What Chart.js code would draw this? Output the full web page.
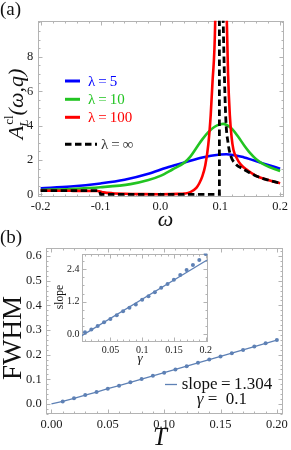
<!DOCTYPE html>
<html>
<head>
  <meta charset="utf-8">
  <script src="https://cdn.jsdelivr.net/npm/chart.js"></script>
  <style>
    body { margin: 0; background: #fff; }
    #page { position: relative; width: 291px; height: 450px; overflow: hidden; }
    #page canvas { position: absolute; }
  </style>
</head>
<body>
  <div id="page">
    <canvas id="chartA" width="291" height="232" style="left:0;top:0"></canvas>
    <canvas id="chartB" width="291" height="225" style="left:0;top:225px"></canvas>
    <canvas id="inset" width="165" height="125" style="left:50px;top:245px"></canvas>
  </div>
  <script>
    // ---- panel (a): A_L^cl(omega, q) for several lambda ----
    const omegaTicks = [-0.2, -0.1, 0, 0.1, 0.2];
    const aTicks = [0, 2, 4, 6, 8];
    const labelsA = ['λ\u2009=\u20095', 'λ\u2009=\u200910', 'λ\u2009=\u2009100', 'λ\u2009=\u2009∞'];

    const omBlue = [-0.2, -0.15, -0.1, -0.06, -0.02, 0.01, 0.04, 0.07, 0.1, 0.11, 0.14, 0.17, 0.2];
    const aBlue  = [0.36, 0.46, 0.64, 0.85, 1.20, 1.55, 1.85, 2.15, 2.32, 2.34, 2.15, 1.82, 1.50];

    const omGreen = [-0.2, -0.15, -0.1, -0.05, -0.02, 0, 0.02, 0.04, 0.05, 0.06, 0.07, 0.08, 0.09, 0.1, 0.105, 0.11, 0.12, 0.13, 0.14, 0.15, 0.16, 0.175, 0.2];
    const aGreen  = [0.26, 0.32, 0.42, 0.60, 0.84, 1.08, 1.45, 1.85, 2.20, 2.70, 3.20, 3.62, 3.92, 4.08, 4.10, 4.05, 3.80, 3.35, 2.85, 2.40, 2.05, 1.70, 1.36];

    const omRed = [-0.2, -0.15, -0.105, -0.095, -0.08, -0.06, -0.03, 0, 0.03, 0.04, 0.05, 0.06, 0.065, 0.07, 0.075, 0.08, 0.084, 0.087, 0.0915, 0.096, 0.1, 0.105, 0.111, 0.113, 0.116, 0.119, 0.122, 0.127, 0.134, 0.145, 0.16, 0.18, 0.2];
    const aRed  = [0.22, 0.21, 0.20, 0.12, 0.07, 0.04, 0.02, 0.015, 0.03, 0.05, 0.13, 0.38, 0.65, 1.05, 1.70, 2.90, 4.60, 6.50, 10.0, 22, 40, 22, 10.0, 7.0, 4.6, 3.3, 2.6, 2.15, 1.75, 1.42, 1.08, 0.84, 0.65];

    const omInfLow = [-0.2, -0.102, -0.1, 0.0985, 0.0985];
    const aInfLow  = [0.22, 0.22, 0, 0, 40];
    const omInfHigh = [0.0985, 0.101, 0.105, 0.109, 0.113, 0.118, 0.125, 0.137, 0.15, 0.162, 0.18, 0.2];
    const aInfHigh  = [40, 20, 10, 4.6, 3.0, 2.2, 1.8, 1.5, 1.25, 1.04, 0.84, 0.65];

    // ---- panel (b): FWHM against T ----
    const tTicks = [0, 0.05, 0.1, 0.15, 0.2];
    const fwhmTicks = [0, 0.1, 0.2, 0.3, 0.4, 0.5, 0.6];
    const tVals    = [0.01, 0.02, 0.03, 0.04, 0.05, 0.06, 0.07, 0.08, 0.09, 0.10, 0.11, 0.12, 0.13, 0.14, 0.15, 0.16, 0.17, 0.18, 0.19, 0.20];
    const fwhmVals = [0.010, 0.023, 0.036, 0.048, 0.062, 0.074, 0.088, 0.101, 0.114, 0.127, 0.140, 0.153, 0.167, 0.180, 0.193, 0.206, 0.219, 0.233, 0.246, 0.259];
    const fitLabel = 'slope\u2009=\u20091.304';
    const gammaNote = '=  0.1';

    // ---- inset: slope against gamma ----
    const gammaTicks = [0.05, 0.1, 0.15, 0.2];
    const slopeTicks = [0, 1.2, 2.4];
    const gammaVals = [0.01, 0.02, 0.03, 0.04, 0.05, 0.06, 0.07, 0.08, 0.09, 0.10, 0.11, 0.12, 0.13, 0.14, 0.15, 0.16, 0.17, 0.18, 0.19, 0.20];
    const slopeVals = [0.08, 0.18, 0.31, 0.44, 0.56, 0.70, 0.85, 0.98, 1.10, 1.27, 1.40, 1.55, 1.71, 1.85, 2.01, 2.18, 2.36, 2.55, 2.73, 2.95];
    const fitGamma = [0.005, 0.203];
    const fitSlope = [-0.05, 2.74];

    const pts = (xs, ys) => xs.map((x, i) => ({ x: x, y: ys[i] }));
    const SERIF = 'Liberation Serif';
    const font = (size, style) => (style ? style + ' ' : '') + size + 'px "Liberation Serif"';
    const MBLUE = '#5e81b5';

    Chart.defaults.font.family = SERIF;
    Chart.defaults.color = '#222';
    Chart.defaults.animation = false;

    // Mathematica-like frame with inward ticks on all four sides
    const framePlugin = {
      id: 'frame',
      beforeDatasetsDraw(chart, args, o) {
        const { ctx, chartArea: a, scales: { x, y } } = chart;
        ctx.save();
        ctx.strokeStyle = '#b3b3b3';
        ctx.lineWidth = 1;
        const L = Math.round(a.left) + 0.5, R = Math.round(a.right) - 0.5;
        const T = Math.round(a.top) + 0.5, B = Math.round(a.bottom) - 0.5;
        const marks = (scale, step) => {
          const out = [];
          const n0 = Math.ceil(scale.min / step - 1e-6), n1 = Math.floor(scale.max / step + 1e-6);
          for (let n = n0; n <= n1; n++) out.push(n * step);
          return out;
        };
        ctx.beginPath();
        const xm = (vals, len) => vals.forEach(v => {
          const p = Math.round(x.getPixelForValue(v)) + 0.5;
          ctx.moveTo(p, B); ctx.lineTo(p, B - len);
          ctx.moveTo(p, T); ctx.lineTo(p, T + len);
        });
        const ym = (vals, len) => vals.forEach(v => {
          const p = Math.round(y.getPixelForValue(v)) + 0.5;
          ctx.moveTo(L, p); ctx.lineTo(L + len, p);
          ctx.moveTo(R, p); ctx.lineTo(R - len, p);
        });
        xm(marks(x, o.xMinor), 2);
        ym(marks(y, o.yMinor), 2);
        xm(x.ticks.map(t => t.value), 4);
        ym(y.ticks.map(t => t.value), 4);
        ctx.stroke();
        ctx.strokeRect(L, T, R - L, B - T);
        ctx.restore();
      }
    };

    function setTicks(vals) {
      return s => { s.ticks = vals.map(v => ({ value: v })); };
    }

    function axis(min, max, tickVals, fmt, size, isX, pad, fsize) {
      return {
        type: 'linear', min: min, max: max,
        grid: { display: false, drawTicks: false }, border: { display: false },
        afterBuildTicks: setTicks(tickVals),
        afterFit: s => { if (isX) s.height = size; else s.width = size; },
        ticks: { autoSkip: false, maxRotation: 0, padding: pad, color: '#1a1a1a',
                 font: { size: fsize, family: SERIF }, callback: fmt }
      };
    }

    function drawRuns(ctx, x, y, parts) {
      let cx = x;
      parts.forEach(p => {
        ctx.font = p[1];
        ctx.fillText(p[0], cx, y + (p[2] || 0));
        cx += ctx.measureText(p[0]).width;
      });
    }

    // ---------- panel (a) ----------
    const textA = {
      id: 'textA',
      afterDraw(chart) {
        const ctx = chart.ctx;
        ctx.save();
        ctx.fillStyle = '#111';
        ctx.textBaseline = 'alphabetic';
        ctx.font = font(19);
        ctx.fillText('(a)', 0, 15);

        // x title
        ctx.font = font(22, 'italic');
        ctx.textAlign = 'center';
        ctx.fillText('ω', 165.5, 226);

        // y title  A_L^cl(ω,q), rotated
        ctx.textAlign = 'left';
        ctx.translate(23, 104);
        ctx.rotate(-Math.PI / 2);
        ctx.font = font(22, 'italic');
        const wA = ctx.measureText('A').width;
        ctx.font = font(13);
        const wcl = ctx.measureText('cl').width;
        ctx.font = font(13, 'italic');
        const wL = ctx.measureText('L').width;
        ctx.font = font(22, 'italic');
        const wRest = ctx.measureText('(ω,q)').width;
        const wScript = Math.max(wcl, wL + 1) + 1;
        const cx = -(wA + wScript + wRest) / 2;
        ctx.fillText('A', cx, 0);
        ctx.font = font(13);
        ctx.fillText('cl', cx + wA + 1, -10);
        ctx.font = font(13, 'italic');
        ctx.fillText('L', cx + wA - 1, 5);
        ctx.font = font(22, 'italic');
        ctx.fillText('(ω,q)', cx + wA + wScript, 0);
        ctx.restore();

        // legend
        ctx.save();
        const rows = [81, 99.3, 117.3, 144.3];
        ctx.textBaseline = 'middle';
        ctx.font = font(15);
        chart.data.datasets.filter(d => d.label).forEach(ds => {
          const idx = labelsA.indexOf(ds.label);
          const yy = rows[idx];
          ctx.strokeStyle = ds.borderColor;
          ctx.lineWidth = 3;
          ctx.setLineDash(ds.borderDash || []);
          ctx.beginPath();
          ctx.moveTo(65, yy); ctx.lineTo(idx === 3 ? 97 : 80, yy);
          ctx.stroke();
          ctx.setLineDash([]);
          ctx.fillStyle = idx === 3 ? '#333' : ds.borderColor;
          ctx.fillText(ds.label, idx === 3 ? 101 : 88, yy + 1);
        });
        ctx.restore();
      }
    };

    const lineDs = (label, data, color, extra) => Object.assign({
      label: label, data: data, showLine: true, borderColor: color, backgroundColor: color,
      borderWidth: 2.6, pointRadius: 0, cubicInterpolationMode: 'monotone', clip: 0
    }, extra || {});

    new Chart(document.getElementById('chartA'), {
      type: 'scatter',
      data: {
        datasets: [
          lineDs(labelsA[3], pts(omInfLow, aInfLow), '#000', { borderDash: [6.5, 3.5], tension: 0, cubicInterpolationMode: 'default', borderWidth: 2.8 }),
          lineDs(null, pts(omInfHigh, aInfHigh), '#000', { borderDash: [6.5, 3.5], borderWidth: 2.8 }),
          lineDs(labelsA[2], pts(omRed, aRed), '#ff0000'),
          lineDs(labelsA[1], pts(omGreen, aGreen), '#22c422'),
          lineDs(labelsA[0], pts(omBlue, aBlue), '#0000ff')
        ]
      },
      options: {
        responsive: false,
        layout: { padding: { top: 20.7, right: 3.7, left: 0, bottom: 0 } },
        plugins: { legend: { display: false }, tooltip: { enabled: false }, frame: { xMinor: 0.02, yMinor: 0.5 } },
        scales: {
          x: axis(-0.205, 0.207, omegaTicks, v => v.toFixed(1), 35.5, true, 3, 12.5),
          y: axis(-0.12, 10.1, aTicks, v => String(v), 37.7, false, 4.5, 12.5)
        }
      },
      plugins: [framePlugin, textA]
    });

    // ---------- panel (b) ----------
    const textB = {
      id: 'textB',
      afterDraw(chart) {
        const ctx = chart.ctx;
        ctx.save();
        ctx.fillStyle = '#111';
        ctx.font = font(19);
        ctx.fillText('(b)', 0, 18);

        ctx.textAlign = 'center';
        ctx.font = font(25, 'italic');
        ctx.fillText('T', 160, 220);

        ctx.save();
        ctx.translate(20.5, 113);
        ctx.rotate(-Math.PI / 2);
        ctx.font = font(27);
        ctx.fillText('FWHM', 0, 0);
        ctx.restore();

        // legend
        ctx.strokeStyle = MBLUE;
        ctx.lineWidth = 1.3;
        ctx.beginPath();
        ctx.moveTo(165, 159.5); ctx.lineTo(177, 159.5);
        ctx.stroke();
        ctx.textAlign = 'left';
        ctx.textBaseline = 'middle';
        ctx.font = font(17);
        ctx.fillText(fitLabel, 181.7, 159.5);
        drawRuns(ctx, 196.7, 175, [['γ', font(17, 'italic')], [' ' + gammaNote, font(17)]]);
        ctx.restore();
      }
    };

    new Chart(document.getElementById('chartB'), {
      type: 'scatter',
      data: {
        datasets: [
          { data: pts(tVals, fwhmVals), pointRadius: 2, pointBorderWidth: 0, backgroundColor: MBLUE, borderColor: MBLUE, clip: 0 },
          { data: pts([0].concat(tVals), [0].concat(fwhmVals)), showLine: true, pointRadius: 0, borderWidth: 1.3, borderColor: MBLUE, clip: 0 }
        ]
      },
      options: {
        responsive: false,
        layout: { padding: { top: 22.7, right: 7, left: 0, bottom: 0 } },
        plugins: { legend: { display: false }, tooltip: { enabled: false }, frame: { xMinor: 0.01, yMinor: 0.02 } },
        scales: {
          x: axis(-0.0051, 0.2058, tTicks, v => v.toFixed(2), 35.7, true, 3, 12.5),
          y: axis(-0.042, 0.634, fwhmTicks, v => v.toFixed(1), 45.7, false, 4, 12.5)
        }
      },
      plugins: [framePlugin, textB]
    });

    // ---------- inset ----------
    const textInset = {
      id: 'textInset',
      afterDraw(chart) {
        const ctx = chart.ctx;
        ctx.save();
        ctx.fillStyle = '#111';
        ctx.textAlign = 'center';
        ctx.font = font(13, 'italic');
        ctx.fillText('γ', 90, 117);
        ctx.translate(13, 52);
        ctx.rotate(-Math.PI / 2);
        ctx.font = font(11.5);
        ctx.fillText('slope', 0, 0);
        ctx.restore();
      }
    };

    new Chart(document.getElementById('inset'), {
      type: 'scatter',
      data: {
        datasets: [
          { data: pts(gammaVals, slopeVals), pointRadius: 2, pointBorderWidth: 0, backgroundColor: MBLUE, borderColor: MBLUE, clip: 0 },
          { data: pts(fitGamma, fitSlope), showLine: true, pointRadius: 0, borderWidth: 1.3, borderColor: MBLUE, clip: 0 }
        ]
      },
      options: {
        responsive: false,
        layout: { padding: { top: 7.3, right: 6.7, left: 0, bottom: 0 } },
        plugins: { legend: { display: false }, tooltip: { enabled: false }, frame: { xMinor: 0.01, yMinor: 0.3 } },
        scales: {
          x: axis(0.0053, 0.203, gammaTicks, v => String(Number(v.toFixed(2))), 28.3, true, 3, 10),
          y: axis(-0.27, 2.97, slopeTicks, v => v.toFixed(1), 32, false, 2.5, 10)
        }
      },
      plugins: [framePlugin, textInset]
    });
  </script>
</body>
</html>
